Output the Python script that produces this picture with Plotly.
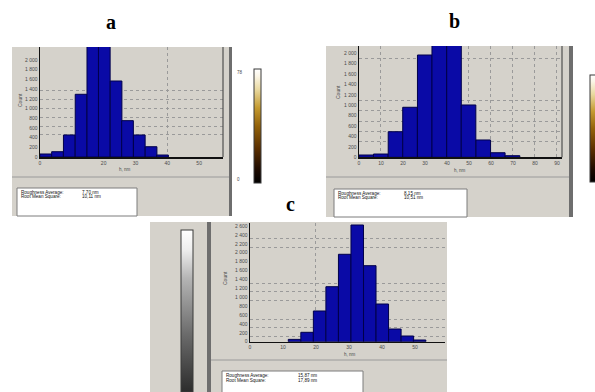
import plotly.graph_objects as go

W, H = 595, 392

# ---------------- data ----------------
# panel a
a_bin_centers = [1.8, 5.5, 9.2, 12.9, 16.6, 20.2, 23.9, 27.5, 31.2, 34.9, 38.5]
a_bin_width = 3.67
a_counts = [62, 109, 454, 1293, 2450, 2600, 1567, 749, 454, 212, 41]
a_xticks = [0, 20, 30, 40, 50]
a_xlabels = ["0", "20", "30", "40", "50"]
a_yticks = [0, 200, 400, 600, 800, 1000, 1200, 1400, 1600, 1800, 2000]
a_xgrid = [40]
a_ygrid = [454, 639, 819, 1004, 1190, 1367]
a_stat_values = ["7,70 nm", "10,11 nm"]
a_height_scale = [0, 78]

# panel b
b_bin_centers = [3.3, 9.9, 16.6, 23.2, 29.9, 36.5, 43.2, 49.8, 56.5, 63.1, 69.8]
b_bin_width = 6.64
b_counts = [44, 63, 492, 962, 1967, 2300, 2250, 1006, 333, 88, 31]
b_xticks = [0, 10, 20, 30, 40, 50, 60, 70, 80, 90]
b_xlabels = ["0", "10", "20", "30", "40", "50", "60", "70", "80", "90"]
b_yticks = [0, 200, 400, 600, 800, 1000, 1200, 1400, 1600, 1800, 2000]
b_xgrid = [10, 50, 60, 70, 80, 90]
b_ygrid = [300, 492, 698, 896, 1083, 1904]
b_stat_values = ["8,15 nm", "10,51 nm"]
b_height_scale = [0, 90]

# panel c
c_bin_centers = [13.5, 17.3, 21.1, 24.9, 28.7, 32.5, 36.3, 40.1, 43.9, 47.7, 51.4]
c_bin_width = 3.79
c_counts = [52, 211, 690, 1236, 1964, 2622, 1708, 847, 285, 128, 38]
c_xticks = [0, 10, 20, 30, 40, 50]
c_xlabels = ["0", "10", "20", "30", "40", "50"]
c_yticks = [0, 200, 400, 600, 800, 1000, 1200, 1400, 1600, 1800, 2000, 2200, 2400, 2600]
c_xgrid = [20]
c_ygrid = [112, 315, 510, 915, 1124, 1312, 2112, 2308]
c_stat_values = ["15,87 nm", "17,89 nm"]
c_height_scale = [0, 120]

stat_names = ["Roughness Average:", "Root Mean Square:"]
panel_letters = ["a", "b", "c"]
x_title = "h, nm"
y_title = "Count"

# ---------------- styling ----------------
GRAY = "#d5d2cb"
DARK = "#6e6e6e"
SEP = "#9a9a9a"
BLUE = "#0a0aa6"
EDGE = "#00004a"
GRID = "#9a9a9a"
TICKC = "#4a4a4a"
SANS = "Liberation Sans, Arial, sans-serif"
SERIF = "Liberation Serif, Times New Roman, serif"


def px(x):
    return x / W


def py(y):
    return 1 - y / H


fig = go.Figure()


def add_hist(cx, counts, width, xa, ya):
    fig.add_trace(go.Bar(
        x=cx, y=counts, width=width, xaxis=xa, yaxis=ya,
        marker=dict(color=BLUE, line=dict(color=EDGE, width=1)),
        showlegend=False, hoverinfo="skip"))


add_hist(a_bin_centers, a_counts, a_bin_width, "x", "y")
add_hist(b_bin_centers, b_counts, b_bin_width, "x2", "y2")
add_hist(c_bin_centers, c_counts, c_bin_width, "x3", "y3")

brown_scale = [[0.0, "#000000"], [0.12, "#1e0b00"], [0.3, "#5a2e00"],
               [0.5, "#93620a"], [0.66, "#c49a30"], [0.82, "#e9d9a0"],
               [0.94, "#fbf6e8"], [1.0, "#ffffff"]]
gray_scale = [[0.0, "#2c2c2c"], [0.35, "#6a6a6a"], [0.7, "#b4b4b4"],
              [0.88, "#eeeeee"], [1.0, "#ffffff"]]


def add_cbar(scale_vals, cscale, x_left, y_top, y_bot, thick, xa, ya):
    fig.add_trace(go.Scatter(
        x=[None, None], y=[None, None], mode="markers", xaxis=xa, yaxis=ya,
        showlegend=False, hoverinfo="skip",
        marker=dict(color=scale_vals, colorscale=cscale, cmin=scale_vals[0],
                    cmax=scale_vals[1], showscale=True,
                    colorbar=dict(x=px(x_left), xanchor="left", y=py(y_top),
                                  yanchor="top", len=(y_bot - y_top) / H,
                                  lenmode="fraction", thickness=thick,
                                  thicknessmode="pixels", xpad=0, ypad=0,
                                  outlinewidth=1, outlinecolor="#3a3a3a",
                                  showticklabels=False, ticks=""))))


add_cbar(a_height_scale, brown_scale, 254, 69, 183, 7, "x", "y")
add_cbar(b_height_scale, brown_scale, 590, 75, 182, 7, "x2", "y2")
add_cbar(c_height_scale, gray_scale, 181, 230, 392, 12, "x3", "y3")


def xaxis(l, r, xmax, ticks, labels, grid, anchor):
    return dict(domain=[px(l), px(r)], range=[0, xmax], anchor=anchor,
                tickmode="array", tickvals=ticks, ticktext=labels,
                showgrid=False, zeroline=False, showline=True,
                linecolor="#111111", linewidth=1.5, ticks="",
                tickfont=dict(family=SANS, size=5, color=TICKC),
                minor=dict(tickmode="array", tickvals=grid, showgrid=True,
                           gridcolor=GRID, griddash="dot", gridwidth=1,
                           ticks=""),
                fixedrange=True)


def yaxis(t, b, ymax, ticks, grid, anchor):
    return dict(domain=[py(b), py(t)], range=[0, ymax], anchor=anchor,
                tickmode="array", tickvals=ticks, tickformat=",d",
                showgrid=False, zeroline=False, showline=True,
                linecolor="#111111", linewidth=1.5, ticks="",
                tickfont=dict(family=SANS, size=5, color=TICKC),
                minor=dict(tickmode="array", tickvals=grid, showgrid=True,
                           gridcolor=GRID, griddash="dot", gridwidth=1,
                           ticks=""),
                fixedrange=True)


shapes = []


def rect(x0, y0, x1, y1, fill, line=None, lw=0):
    shapes.append(dict(type="rect", xref="paper", yref="paper", layer="below",
                       x0=px(x0), x1=px(x1), y0=py(y1), y1=py(y0),
                       fillcolor=fill,
                       line=dict(width=lw, color=line or fill)))


def hline(x0, x1, y, color, w=1):
    shapes.append(dict(type="line", xref="paper", yref="paper", layer="below",
                       x0=px(x0), x1=px(x1), y0=py(y), y1=py(y),
                       line=dict(color=color, width=w)))


def plot_right_border(xa, ya):
    shapes.append(dict(type="line", xref=xa + " domain", yref=ya + " domain",
                       x0=1, x1=1, y0=0, y1=1, layer="above",
                       line=dict(color="#505050", width=1.2)))


# panel a frame
rect(12, 47, 229, 216, GRAY)
rect(229, 47, 232, 216, DARK)
hline(12, 229, 177, SEP)
rect(17, 188, 137, 216, "#ffffff", "#7c7c7c", 1)
plot_right_border("x", "y")

# panel b frame
rect(326, 46, 569, 217, GRAY)
rect(569, 46, 573, 217, DARK)
hline(326, 569, 177, SEP)
rect(334, 189, 467, 217, "#ffffff", "#7c7c7c", 1)
plot_right_border("x2", "y2")

# panel c frame
rect(150, 222, 207, 392, GRAY)
rect(207, 222, 211, 392, DARK)
rect(211, 222, 447, 392, GRAY)
hline(211, 447, 360, SEP)
rect(222, 371, 363, 393, "#ffffff", "#7c7c7c", 1)

annotations = []


def text(x, y, s, size=5, color="#222222", family=SANS, xanchor="left",
         angle=0, bold=False):
    annotations.append(dict(x=px(x), y=py(y), xref="paper", yref="paper",
                            text=("<b>%s</b>" % s) if bold else s,
                            showarrow=False, xanchor=xanchor, yanchor="middle",
                            textangle=angle,
                            font=dict(family=family, size=size, color=color)))


# panel letters
text(111, 22, panel_letters[0], 20, "#000000", SERIF, "center", bold=True)
text(455, 21, panel_letters[1], 20, "#000000", SERIF, "center", bold=True)
text(290, 204, panel_letters[2], 20, "#000000", SERIF, "center", bold=True)

# axis titles
text(125, 169, x_title, 4.5, TICKC, xanchor="center")
text(460, 170, x_title, 4.5, TICKC, xanchor="center")
text(350, 354, x_title, 4.5, TICKC, xanchor="center")
text(20, 100, y_title, 5, TICKC, xanchor="center", angle=-90)
text(338, 92, y_title, 5, TICKC, xanchor="center", angle=-90)
text(225, 278, y_title, 5, TICKC, xanchor="center", angle=-90)

# stats boxes
for i in range(2):
    text(19, 192 + 4.3 * i, stat_names[i], 4.6, "#111111")
    text(80, 192 + 4.3 * i, a_stat_values[i], 4.6, "#111111")
    text(336, 193 + 4.3 * i, stat_names[i], 4.6, "#111111")
    text(402, 193 + 4.3 * i, b_stat_values[i], 4.6, "#111111")
    text(224, 375 + 5 * i, stat_names[i], 4.6, "#111111")
    text(296, 375 + 5 * i, c_stat_values[i], 4.6, "#111111")

# colorbar end labels (panel a)
text(235, 72, str(a_height_scale[1]), 4.5, TICKC)
text(235, 180, str(a_height_scale[0]), 4.5, TICKC)

fig.update_layout(
    width=W, height=H,
    margin=dict(l=0, r=0, t=0, b=0, autoexpand=False),
    paper_bgcolor="#ffffff", plot_bgcolor="rgba(0,0,0,0)",
    separators=", ",
    bargap=0,
    xaxis=xaxis(40, 223, 57.5, a_xticks, a_xlabels, a_xgrid, "y"),
    yaxis=yaxis(47, 157, 2268, a_yticks, a_ygrid, "x"),
    xaxis2=xaxis(359, 562, 92.3, b_xticks, b_xlabels, b_xgrid, "y2"),
    yaxis2=yaxis(46, 157.3, 2140, b_yticks, b_ygrid, "x2"),
    xaxis3=xaxis(250, 445, 59.1, c_xticks, c_xlabels, c_xgrid, "y3"),
    yaxis3=yaxis(223, 341.7, 2667, c_yticks, c_ygrid, "x3"),
    shapes=shapes, annotations=annotations,
)

fig.write_html("out.html",
               config={"displayModeBar": False, "staticPlot": True},
               post_script="document.body.style.margin='0';"
                           "document.body.style.overflow='hidden';")
